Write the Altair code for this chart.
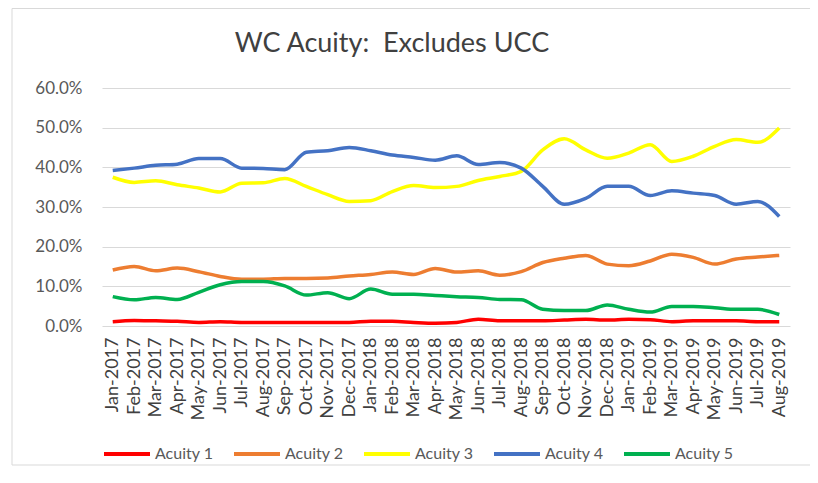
import altair as alt
import pandas as pd

months = ["Jan-2017", "Feb-2017", "Mar-2017", "Apr-2017", "May-2017", "Jun-2017",
          "Jul-2017", "Aug-2017", "Sep-2017", "Oct-2017", "Nov-2017", "Dec-2017",
          "Jan-2018", "Feb-2018", "Mar-2018", "Apr-2018", "May-2018", "Jun-2018",
          "Jul-2018", "Aug-2018", "Sep-2018", "Oct-2018", "Nov-2018", "Dec-2018",
          "Jan-2019", "Feb-2019", "Mar-2019", "Apr-2019", "May-2019", "Jun-2019",
          "Jul-2019", "Aug-2019"]

acuity1 = [1.1, 1.4, 1.3, 1.2, 0.9, 1.1, 0.9, 0.9, 0.9, 0.9, 0.9, 0.9,
           1.2, 1.2, 0.9, 0.7, 0.9, 1.7, 1.3, 1.3, 1.3, 1.5, 1.7, 1.5,
           1.7, 1.6, 1.1, 1.3, 1.3, 1.3, 1.1, 1.1]
acuity2 = [14.1, 15.0, 13.9, 14.6, 13.7, 12.5, 11.8, 11.8, 12.0, 12.0, 12.1, 12.6,
           13.0, 13.6, 13.0, 14.5, 13.6, 13.9, 12.8, 13.7, 16.0, 17.1, 17.8, 15.6,
           15.2, 16.4, 18.1, 17.3, 15.6, 16.9, 17.4, 17.8]
acuity3 = [37.5, 36.2, 36.6, 35.6, 34.8, 33.8, 36.0, 36.1, 37.2, 35.2, 33.1, 31.4,
           31.6, 33.9, 35.4, 34.9, 35.2, 36.7, 37.7, 39.0, 44.4, 47.2, 44.4, 42.3,
           43.6, 45.7, 41.5, 42.8, 45.3, 47.0, 46.3, 49.9]
acuity4 = [39.2, 39.8, 40.5, 40.8, 42.2, 42.2, 39.8, 39.7, 39.4, 43.8, 44.2, 45.0,
           44.2, 43.1, 42.5, 41.8, 42.9, 40.7, 41.2, 39.8, 35.2, 30.7, 32.2, 35.2,
           35.2, 32.9, 34.1, 33.5, 32.9, 30.7, 31.4, 27.6]
acuity5 = [7.4, 6.6, 7.2, 6.7, 8.5, 10.4, 11.2, 11.2, 10.1, 7.8, 8.4, 6.9,
           9.3, 8.0, 8.0, 7.7, 7.4, 7.2, 6.7, 6.6, 4.2, 3.9, 3.9, 5.3,
           4.2, 3.5, 4.9, 4.9, 4.6, 4.2, 4.2, 2.9]

series_names = ["Acuity 1", "Acuity 2", "Acuity 3", "Acuity 4", "Acuity 5"]
series_colors = ["#FF0000", "#ED7D31", "#FFFF00", "#4472C4", "#00B050"]
series_values = [acuity1, acuity2, acuity3, acuity4, acuity5]
title_text = "WC Acuity:\u00a0 Excludes UCC"

rows = []
for name, vals in zip(series_names, series_values):
    for m, v in zip(months, vals):
        rows.append({"Month": m, "Series": name, "Value": v / 100.0})
df = pd.DataFrame(rows)

font = "Lato"
grey = "#595959"

lines = alt.Chart(df).mark_line(strokeWidth=3.5, interpolate="monotone").encode(
    x=alt.X("Month:N", sort=months, title=None,
            scale=alt.Scale(type="point", padding=0.5),
            axis=alt.Axis(labelAngle=270, labelFontSize=18, labelColor="#404040",
                          labelFont=font, labelPadding=11, ticks=False, domain=False,
                          grid=False, labelOverlap=False)),
    y=alt.Y("Value:Q", title=None,
            scale=alt.Scale(domain=[0, 0.6], nice=False),
            axis=alt.Axis(format=".1%", values=[0, 0.1, 0.2, 0.3, 0.4, 0.5, 0.6],
                          labelFontSize=17, labelColor=grey, labelFont=font,
                          labelPadding=20, ticks=False, domain=False,
                          gridColor="#D9D9D9", gridWidth=1)),
    color=alt.Color("Series:N", sort=series_names,
                    scale=alt.Scale(domain=series_names, range=series_colors),
                    legend=alt.Legend(title=None, orient="none", direction="horizontal",
                                      legendX=0, legendY=341, padding=0,
                                      symbolType="stroke", symbolSize=2116,
                                      symbolStrokeWidth=4, labelFontSize=16,
                                      labelColor=grey, labelFont=font,
                                      labelOffset=3, columnPadding=12)),
    order=alt.Order("Series:N"),
)

border = alt.Chart(pd.DataFrame({"k": [0]})).mark_rect(
    fill="transparent", stroke="#D9D9D9", strokeWidth=1, clip=False
).encode(x=alt.value(-90), x2=alt.value(710), y=alt.value(-79.5), y2=alt.value(377))

title = alt.Chart(pd.DataFrame({"t": [title_text]})).mark_text(
    fontSize=27, font=font, color="#404040", align="center", baseline="middle", clip=False
).encode(text="t:N", x=alt.value(290), y=alt.value(-44))

chart = alt.layer(border, lines, title).properties(
    width=688, height=238,
    autosize=alt.AutoSizeParams(type="none"),
    padding={"left": 94, "top": 80, "right": 20, "bottom": 141},
).configure_view(stroke=None)

chart.save("out.html", embed_options={"renderer": "svg", "actions": False})
